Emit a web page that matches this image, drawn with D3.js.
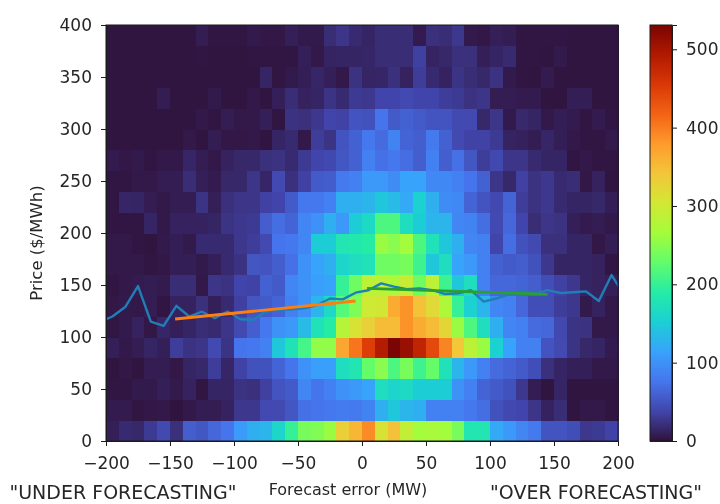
<!DOCTYPE html>
<html><head><meta charset="utf-8">
<script src="https://cdnjs.cloudflare.com/ajax/libs/d3/7.8.5/d3.min.js"></script>
<style>
html,body{margin:0;padding:0;background:#fff;overflow:hidden}
text{font-family:"DejaVu Sans",sans-serif;fill:#262626}
svg{filter:blur(0.45px)}
</style></head><body><div id="chart"></div>
<script>
const xTicks=[-200,-150,-100,-50,0,50,100,150,200];
const yTicks=[0,50,100,150,200,250,300,350,400];
const cTicks=[0,100,200,300,400,500];
const xEdges=d3.range(-200,200,10);
const yEdges=d3.range(0,400,20);
const turboStops=["#30123b","#4145ab","#4675ed","#39a2fc","#1bcfd4","#24eca6","#61fc6c","#a4fc3b","#d1e834","#f3c63a","#fe9b2d","#f36315","#d93806","#b11901","#7a0402"];
const countMax=531;
// rows run from price 0-20 upward to 380-400; columns from -200 to 200 MW
const row000=[10,18,16,30,42,22,58,52,65,75,108,125,130,160,200,240,245,260,330,355,390,310,345,290,265,270,265,240,180,180,120,105,90,80,50,50,45,28,30,36];
const row020=[7,7,3,4,5,1,5,8,8,12,28,28,42,42,52,72,75,78,82,80,88,125,145,130,125,85,85,85,78,70,48,40,38,26,12,20,2,5,5,2];
const row040=[3,3,6,6,10,6,12,3,14,14,24,22,34,50,55,90,75,85,100,105,115,170,160,165,150,150,150,100,85,62,55,48,28,8,2,14,2,2,2,2];
const row060=[2,4,2,8,8,4,14,16,32,15,36,48,48,62,75,100,110,110,170,180,230,250,215,240,205,230,175,130,105,85,68,62,55,45,22,14,10,10,5,5];
const row080=[10,5,8,14,10,32,24,26,42,25,75,78,85,145,175,210,255,255,370,405,450,490,530,510,480,440,395,340,285,260,155,115,85,85,50,42,25,16,14,7];
const row100=[3,6,12,4,15,10,14,20,18,26,42,58,78,100,105,135,175,190,280,310,330,350,350,385,365,350,325,260,215,170,125,90,85,68,65,40,25,24,5,5];
const row120=[4,6,5,8,3,12,12,22,10,18,34,52,55,62,85,100,130,165,220,245,300,305,365,385,345,320,275,200,155,130,90,85,65,45,45,32,28,6,12,5];
const row140=[3,5,7,8,7,20,20,5,26,24,38,36,60,55,90,100,110,115,200,235,285,285,275,295,235,285,205,145,170,85,65,65,62,58,45,35,28,14,12,10];
const row160=[5,5,5,3,4,9,9,6,10,18,24,52,50,58,72,100,115,125,160,170,175,235,235,240,205,145,170,115,105,85,60,55,58,48,28,14,14,14,12,3];
const row180=[5,5,3,2,6,9,6,18,18,18,28,32,42,75,78,90,150,150,180,185,190,260,250,265,215,175,145,125,90,85,38,70,48,42,22,22,14,14,4,9];
const row200=[3,3,3,14,5,12,12,12,14,25,28,30,58,70,62,90,100,125,105,150,165,215,215,170,150,130,130,90,88,70,42,65,38,20,26,24,10,7,8,5];
const row220=[3,15,14,8,5,8,8,25,10,22,26,26,35,38,55,78,78,85,125,125,130,145,135,120,155,125,95,92,62,50,40,62,32,24,28,18,14,14,16,9];
const row240=[3,3,5,5,8,8,20,10,7,16,16,26,15,42,22,35,55,57,80,85,105,105,95,115,115,92,92,85,75,60,26,16,35,24,28,18,20,4,12,2];
const row260=[7,4,6,3,5,5,15,8,5,12,16,16,22,24,18,30,38,40,52,60,85,72,78,70,58,85,58,72,52,32,40,26,26,18,14,14,3,5,3,3];
const row280=[2,2,2,2,2,2,5,2,8,4,4,5,2,14,18,5,32,25,50,60,78,68,88,62,58,80,60,42,36,36,30,13,11,8,15,9,5,3,3,6];
const row300=[2,2,2,2,2,2,2,5,3,8,5,5,10,3,24,22,28,38,36,50,48,75,55,60,55,50,50,42,42,16,26,6,17,14,5,9,7,3,7,3];
const row320=[2,2,2,2,8,2,2,2,6,2,2,5,2,10,20,12,14,25,18,30,28,38,38,42,38,38,32,30,24,26,8,8,7,7,2,2,9,9,2,2];
const row340=[2,2,2,2,2,2,2,2,2,2,2,2,14,3,6,9,15,10,5,24,14,15,22,12,32,18,12,25,20,16,24,6,3,2,7,2,2,2,2,2];
const row360=[2,2,2,2,2,2,2,3,2,2,2,3,3,3,3,10,5,13,14,14,15,20,20,20,34,13,16,22,22,10,14,18,3,3,2,6,2,2,2,2];
const row380=[2,2,2,2,2,2,2,8,3,3,3,6,4,4,10,6,6,20,26,18,14,20,20,20,7,22,20,28,6,4,10,8,3,3,3,3,2,2,2,2];
const counts=[row000,row020,row040,row060,row080,row100,row120,row140,row160,row180,row200,row220,row240,row260,row280,row300,row320,row340,row360,row380];
const meanX=[-205,-195,-185,-175,-165,-155,-145,-135,-125,-115,-105,-95,-85,-75,-65,-55,-45,-35,-25,-15,-5,5,15,25,35,45,55,65,75,85,95,105,115,125,135,145,155,165,175,185,195,205];
const meanY=[114.4,119.7,128.8,149,114.7,110.6,130,119.7,124.3,118,124.5,117,116.3,124.5,126,126.6,127.6,130.8,137,136.2,142.6,145,151.6,148.4,146,146.8,145,141.3,142,145,134,137,141.3,143.9,142,145,142.3,143,143.9,134.6,159.6,140];
const underX=[-146,-5];
const underY=[117.3,134.6];
const overX=[4,145];
const overY=[146.8,141];
const labels={x:"Forecast error (MW)",y:"Price ($/MWh)",under:'"UNDER FORECASTING"',over:'"OVER FORECASTING"'};

const W=720,H=504,L=106,R=618,T=25,B=441,CL=650,CR=672;
const svg=d3.select("#chart").append("svg").attr("width",W).attr("height",H).style("display","block");
const x=d3.scaleLinear().domain([-200,200]).range([L,R]);
const y=d3.scaleLinear().domain([0,400]).range([B,T]);
const cY=d3.scaleLinear().domain([0,countMax]).range([B,T]);
const turbo=d3.piecewise(d3.interpolateRgb,turboStops);
const color=d3.scaleSequential(turbo).domain([0,countMax]);

const defs=svg.append("defs");
defs.append("clipPath").attr("id","plot").append("rect").attr("x",L).attr("y",T).attr("width",R-L).attr("height",B-T);

const cells=svg.append("g").attr("shape-rendering","crispEdges");
counts.forEach((row,j)=>{
  cells.selectAll(null).data(row).enter().append("rect")
    .attr("x",(d,i)=>x(xEdges[i]))
    .attr("y",y(yEdges[j]+20))
    .attr("width",(d,i)=>x(xEdges[i]+10)-x(xEdges[i])+0.5)
    .attr("height",y(yEdges[j])-y(yEdges[j]+20)+0.5)
    .attr("fill",d=>color(d));
});

const line=d3.line().x(d=>x(d[0])).y(d=>y(d[1]));
const lines=svg.append("g").attr("clip-path","url(#plot)").attr("fill","none").attr("stroke-linejoin","round");
lines.append("path").attr("d",line(d3.zip(meanX,meanY))).attr("stroke","#1f7fb6").attr("stroke-width",2.4);
lines.append("path").attr("d",line(d3.zip(underX,underY))).attr("stroke","#ff7f0e").attr("stroke-width",2.8);
lines.append("path").attr("d",line(d3.zip(overX,overY))).attr("stroke","#2ca02c").attr("stroke-width",2.8);

function style(g){
  g.selectAll("path,line").attr("stroke","#1a1a1a").attr("stroke-width",1);
  g.selectAll("text").attr("fill","#262626").style("font-size","17px").style("font-family",'"DejaVu Sans",sans-serif');
}
const fmt=d=>String(d).replace("-","\u2212");
svg.append("g").attr("transform",`translate(0,${B})`)
  .call(d3.axisBottom(x).tickValues(xTicks).tickFormat(fmt).tickSize(5).tickPadding(11)).call(style);
svg.append("g").attr("transform",`translate(${L},0)`)
  .call(d3.axisLeft(y).tickValues(yTicks).tickFormat(fmt).tickSize(5).tickPadding(9)).call(style);
svg.append("rect").attr("x",L).attr("y",T).attr("width",R-L).attr("height",B-T).attr("fill","none").attr("stroke","#1a1a1a");

const bar=svg.append("g").attr("shape-rendering","crispEdges");
bar.selectAll(null).data(d3.range(0,countMax,1)).enter().append("rect")
  .attr("x",CL).attr("width",CR-CL)
  .attr("y",d=>cY(d+1)).attr("height",d=>cY(d)-cY(d+1)+0.5)
  .attr("fill",d=>color(d));
svg.append("g").attr("transform",`translate(${CR},0)`)
  .call(d3.axisRight(cY).tickValues(cTicks).tickFormat(fmt).tickSize(5).tickPadding(9)).call(style);
svg.append("rect").attr("x",CL).attr("y",T).attr("width",CR-CL).attr("height",B-T).attr("fill","none").attr("stroke","#1a1a1a");

svg.append("text").attr("x",348).attr("y",495).attr("text-anchor","middle").style("font-size","16px").text(labels.x);
svg.append("text").attr("transform","translate(42,243) rotate(-90)").attr("text-anchor","middle").style("font-size","16.5px").text(labels.y);
svg.append("text").attr("x",123).attr("y",499).attr("text-anchor","middle").style("font-size","19px").text(labels.under);
svg.append("text").attr("x",596).attr("y",499).attr("text-anchor","middle").style("font-size","19px").text(labels.over);
</script></body></html>
